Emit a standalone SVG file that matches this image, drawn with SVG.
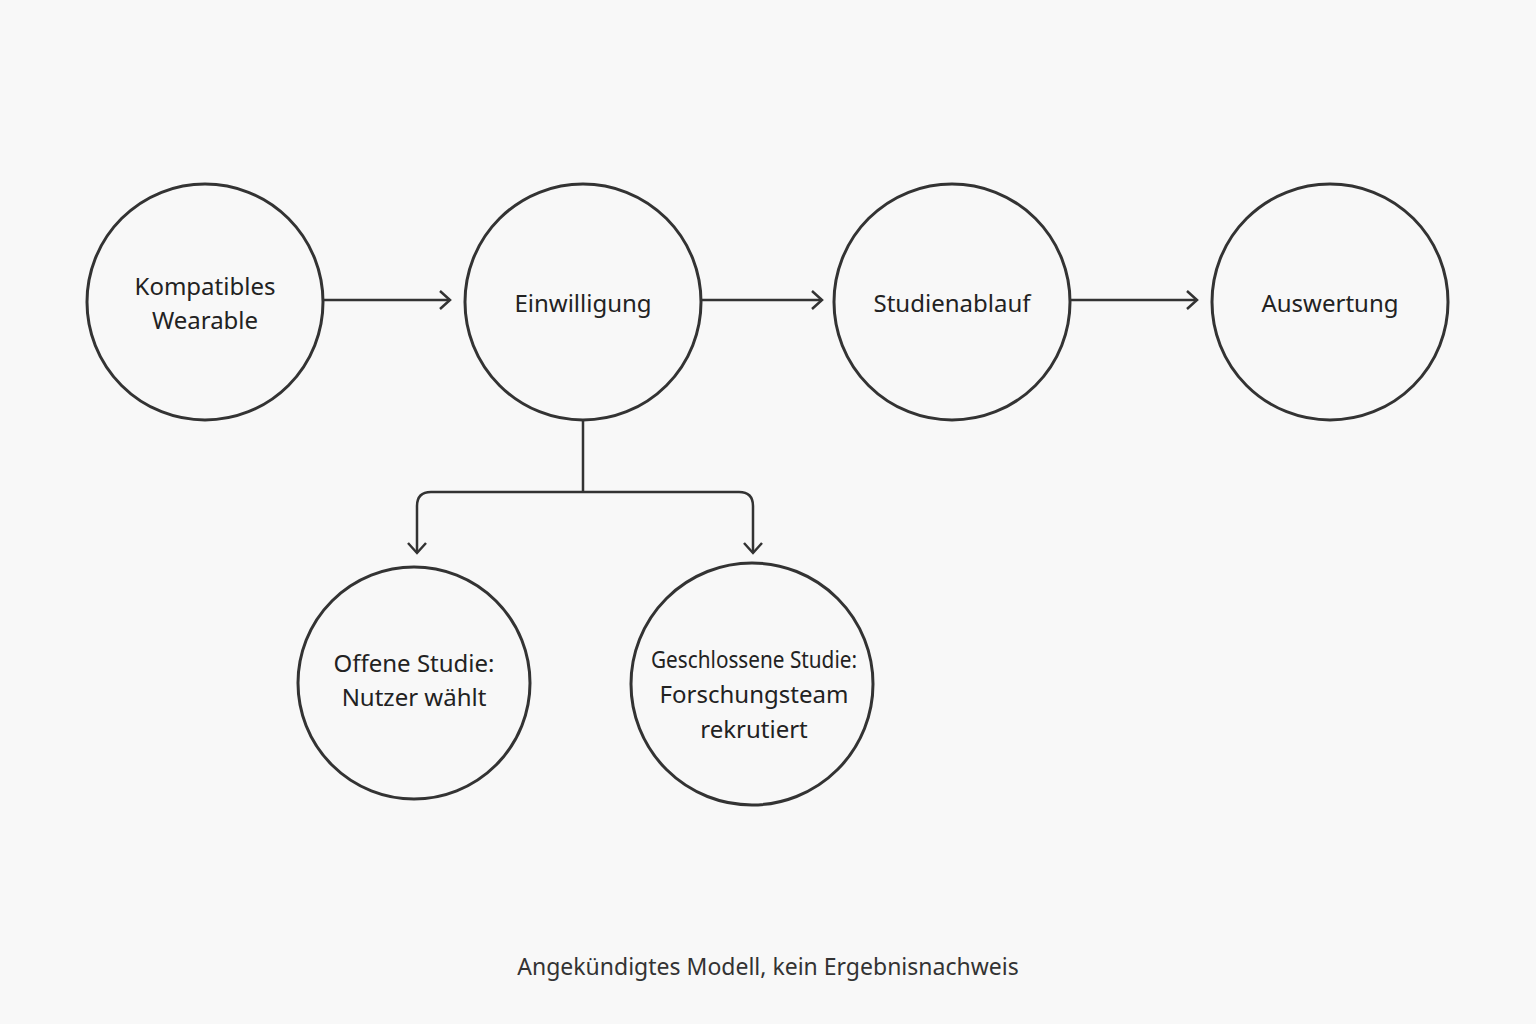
<svg xmlns="http://www.w3.org/2000/svg" width="1536" height="1024" viewBox="0 0 1536 1024">
<defs>
<style>
.n{fill:none;stroke:#333;stroke-width:3}
.t{font-family:"Noto Sans","Open Sans",sans-serif;font-size:24px;fill:#222;text-anchor:middle}
.c{fill:none;stroke:#333;stroke-width:2.5}
</style>
<marker id="a" markerWidth="20" markerHeight="20" refX="14" refY="10" orient="auto" markerUnits="userSpaceOnUse">
<path d="M4,1 L14,10 L4,19" fill="none" stroke="#333" stroke-width="2.5"/>
</marker>
</defs>
<rect width="1536" height="1024" fill="#f8f8f8"/>
<g id="n1"><circle class="n" cx="205" cy="302" r="118"/><text class="t" x="205" y="295">Kompatibles</text><text class="t" x="205" y="329">Wearable</text></g>
<g id="n2"><circle class="n" cx="583" cy="302" r="118"/><text class="t" x="583" y="312">Einwilligung</text></g>
<g id="n3"><circle class="n" cx="952" cy="302" r="118"/><text class="t" x="952" y="312">Studienablauf</text></g>
<g id="n4"><circle class="n" cx="1330" cy="302" r="118"/><text class="t" x="1330" y="312">Auswertung</text></g>
<g id="n5"><circle class="n" cx="414" cy="683" r="116"/><text class="t" x="414" y="672">Offene Studie:</text><text class="t" x="414" y="706">Nutzer wählt</text></g>
<g id="n6"><circle class="n" cx="752" cy="684" r="121"/><text class="t" x="754" y="668" textLength="206" lengthAdjust="spacingAndGlyphs">Geschlossene Studie:</text><text class="t" x="754" y="703">Forschungsteam</text><text class="t" x="754" y="738">rekrutiert</text></g>
<g id="connectors">
<path class="c" d="M322,300 H450" marker-end="url(#a)"/>
<path class="c" d="M700,300 H822" marker-end="url(#a)"/>
<path class="c" d="M1069,300 H1197" marker-end="url(#a)"/>
<path class="c" d="M583,420 V492"/>
<path class="c" d="M583,492 H431 Q417,492 417,506 V553" marker-end="url(#a)"/>
<path class="c" d="M583,492 H739 Q753,492 753,506 V553" marker-end="url(#a)"/>
</g>
<text x="768" y="975" style="font-family:'Noto Sans','Open Sans',sans-serif;font-size:23px;fill:#333;text-anchor:middle">Angekündigtes Modell, kein Ergebnisnachweis</text>
</svg>
